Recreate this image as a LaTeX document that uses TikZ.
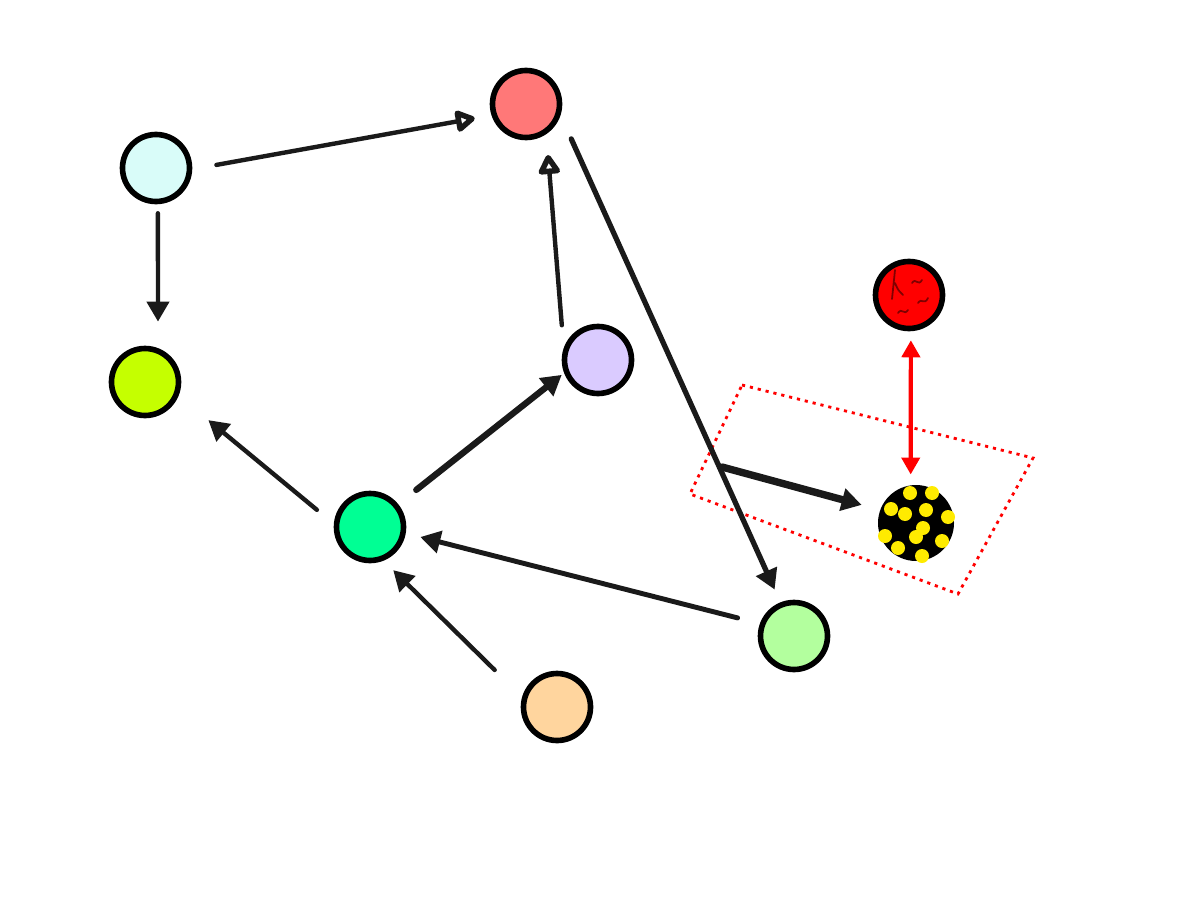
\documentclass[tikz,border=0pt]{standalone}
\usepackage{tikz}
\usetikzlibrary{arrows.meta}
\definecolor{cian}{RGB}{217,252,249}
\definecolor{rosa}{RGB}{255,120,120}
\definecolor{lima}{RGB}{197,255,0}
\definecolor{lila}{RGB}{218,203,255}
\definecolor{menta}{RGB}{0,255,148}
\definecolor{melocoton}{RGB}{255,213,158}
\definecolor{verdeclaro}{RGB}{179,255,158}
\definecolor{trazo}{RGB}{26,26,26}
\definecolor{granate}{RGB}{128,0,0}
\definecolor{amarillo}{RGB}{255,235,0}

\begin{document}
\begin{tikzpicture}[
    nodo/.style={circle, draw=black, line width=3.2pt, minimum size=1.34cm, inner sep=0pt},
    flecha/.style={-{Triangle[length=4mm, width=4.4mm]}, line width=2.5pt, color=trazo, line cap=round},
    flechahueca/.style={flecha, -{Triangle[open, length=4.4mm, width=4.8mm, line width=4pt, round]}},
    enlace/.style={{Triangle[length=3.4mm, width=3.6mm]}-{Triangle[length=3.4mm, width=3.6mm]},
                   line width=2.4pt, color=red},
    marco/.style={draw=red, line width=1.6pt, dash pattern=on 1.8pt off 2.8pt}]
  \useasboundingbox (0,0) rectangle (24,18);
  \node[nodo, fill=cian] (cian) at (3.12,14.64) {};
  \node[nodo, fill=rosa] (rosa) at (10.52,15.92) {};
  \node[nodo, fill=lima] (lima) at (2.90,10.36) {};
  \node[nodo, fill=lila] (lila) at (11.96,10.80) {};
  \node[nodo, fill=menta] (menta) at (7.40,7.46) {};
  \node[nodo, fill=melocoton] (melocoton) at (11.14,3.86) {};
  \node[nodo, fill=verdeclaro] (verdeclaro) at (15.88,5.28) {};
  \node[nodo, fill=red] (rojo) at (18.18,12.10) {};
  \node[circle, fill=black, minimum size=1.52cm, inner sep=0pt] (negro) at (18.32,7.54) {};
  \coordinate (cruce) at (14.44,8.66);
  \draw[marco] (14.84,10.30) -- (20.66,8.84) -- (19.16,6.12) -- (13.80,8.12) -- cycle;
  \foreach \x/\y in {18.20/8.14, 18.64/8.14, 17.82/7.82, 18.10/7.72, 18.52/7.80, 18.96/7.66,
                     18.46/7.44, 18.32/7.26, 17.70/7.28, 18.84/7.18, 17.96/7.04, 18.44/6.88}
    \fill[amarillo] (\x,\y) circle (0.14);
  \draw[granate, line width=1pt, line cap=round]
    (17.90,12.60) -- (17.84,12.02) (17.90,12.34) .. controls (17.96,12.20) .. (18.06,12.10)
    (18.24,12.34) .. controls (18.32,12.46) and (18.36,12.26) .. (18.44,12.40)
    (18.36,11.94) .. controls (18.44,12.06) and (18.48,11.88) .. (18.56,12.04)
    (17.96,11.74) .. controls (18.04,11.86) and (18.08,11.68) .. (18.16,11.80);
  \draw[flechahueca, shorten <=0.49cm, shorten >=0.34cm] (cian.-2) -- (rosa.198);
  \draw[flecha, shorten <=0.18cm, shorten >=0.53cm] (cian.-87) -- (lima.69);
  \draw[flechahueca, shorten <=0.46cm, shorten >=0.42cm] (lila.161) -- (rosa.-56);
  \draw[flecha, line width=3.6pt, shorten <=0.46cm, shorten >=0.06cm] (menta.39) -- (lila.201);
  \draw[flecha, shorten <=0.44cm, shorten >=0.77cm] (menta.175) -- (lima.-22);
  \draw[flecha, line width=2.8pt, shorten <=0.46cm, shorten >=0.30cm] (verdeclaro.160) -- (menta.-10);
  \draw[flecha, shorten <=0.77cm, shorten >=0.27cm] (melocoton.164) -- (menta.-68);
  \draw[flecha, line width=3pt, shorten <=0.52cm, shorten >=0.28cm] (rosa.-18) -- (verdeclaro.112);
  \draw[flecha, line width=4.2pt, shorten >=0.38cm] (cruce) -- (negro.160);
  \draw[enlace, shorten <=0.18cm, shorten >=0.21cm] (rojo.-87) -- (negro.98);
\end{tikzpicture}
\end{document}
